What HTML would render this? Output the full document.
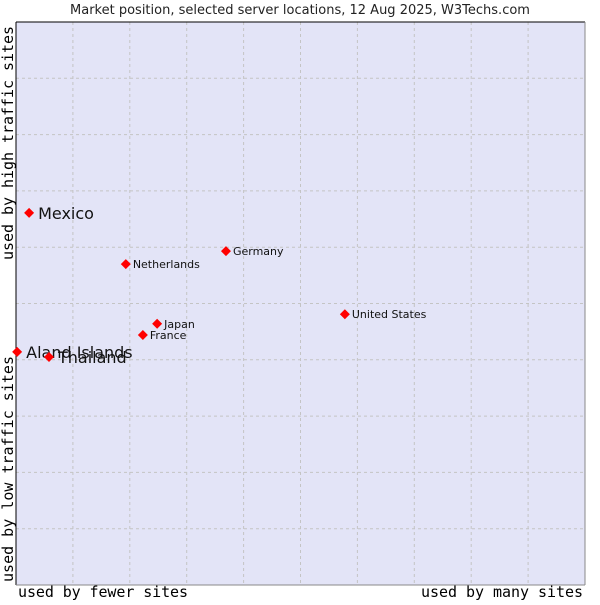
<!DOCTYPE html>
<html><head><meta charset="utf-8"><style>
body{margin:0;background:#fff;width:600px;height:600px;overflow:hidden}
svg{font-family:"DejaVu Sans","Liberation Sans",sans-serif}
</style></head><body>
<svg id="chart" width="600" height="600">
<text x="300" y="14" text-anchor="middle" font-size="13" fill="#222">Market position, selected server locations, 12 Aug 2025, W3Techs.com</text>
<rect x="16" y="22" width="569" height="563" fill="#e3e4f7" stroke="none"/>
<g id="grid"></g>
<line x1="16" y1="22" x2="585" y2="22" stroke="#000"/>
<line x1="16" y1="22" x2="16" y2="585" stroke="#000"/>
<line x1="585" y1="22" x2="585" y2="585" stroke="#888"/>
<line x1="16" y1="585" x2="585" y2="585" stroke="#888"/>
<g id="points"></g>
<text x="18" y="597" textLength="170" font-family="'DejaVu Sans Mono','Liberation Mono',monospace" font-size="15" fill="#000">used by fewer sites</text>
<text x="421" y="597" textLength="162" font-family="'DejaVu Sans Mono','Liberation Mono',monospace" font-size="15" fill="#000">used by many sites</text>
<text transform="translate(13,582) rotate(-90)" textLength="226" font-family="'DejaVu Sans Mono','Liberation Mono',monospace" font-size="15" fill="#000">used by low traffic sites</text>
<text transform="translate(13,260) rotate(-90)" textLength="234" font-family="'DejaVu Sans Mono','Liberation Mono',monospace" font-size="15" fill="#000">used by high traffic sites</text>
</svg>
<script>
const names=["Mexico","Netherlands","Germany","United States","Japan","France","Aland Islands","Thailand"];
const xValues=[2.3,19.3,36.9,57.8,24.8,22.3,0.2,5.8];
const yValues=[66.1,57.0,59.3,48.1,46.4,44.4,41.4,40.5];
const bigLabel=[true,false,false,false,false,false,true,true];
const NS="http://www.w3.org/2000/svg";
const X0=16,X1=585,Y0=585,Y1=22;
function sx(v){return X0+(X1-X0)*v/100;}
function sy(v){return Y0-(Y0-Y1)*v/100;}
const grid=document.getElementById('grid');
for(let i=1;i<10;i++){
  const v=document.createElementNS(NS,'line');
  v.setAttribute('x1',sx(i*10));v.setAttribute('x2',sx(i*10));v.setAttribute('y1',Y1);v.setAttribute('y2',Y0);
  v.setAttribute('stroke','#c4c4c4');v.setAttribute('stroke-dasharray','3,3');
  
  
  grid.appendChild(v);
  const h=document.createElementNS(NS,'line');
  h.setAttribute('y1',sy(i*10));h.setAttribute('y2',sy(i*10));h.setAttribute('x1',X0);h.setAttribute('x2',X1);
  h.setAttribute('stroke','#c4c4c4');h.setAttribute('stroke-dasharray','3,3');
  
  
  grid.appendChild(h);
}
const pts=document.getElementById('points');
names.forEach((n,i)=>{
  const x=sx(xValues[i]),y=sy(yValues[i]);
  const d=document.createElementNS(NS,'path');
  d.setAttribute('d',`M${x-5},${y}L${x},${y-5}L${x+5},${y}L${x},${y+5}Z`);
  d.setAttribute('fill','#f00');
  
  
  pts.appendChild(d);
  const t=document.createElementNS(NS,'text');
  t.setAttribute('x',x+(bigLabel[i]?9:7));
  t.setAttribute('y',y+(bigLabel[i]?6:4));
  t.setAttribute('font-size',bigLabel[i]?16:11);
  t.setAttribute('fill','#111');
  t.textContent=n;
  
  
  pts.appendChild(t);
});
</script>
</body></html>
